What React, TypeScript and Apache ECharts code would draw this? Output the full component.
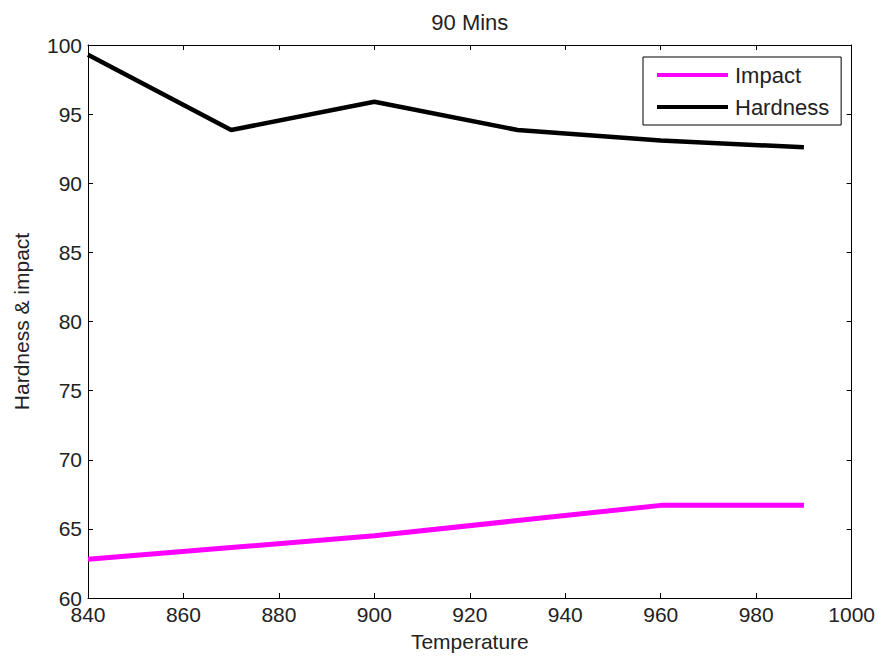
import React, { useEffect, useRef } from "react";
import * as echarts from "echarts";

const temperatures = [840, 870, 900, 930, 960, 990];
const impact = [62.8, 63.65, 64.5, 65.6, 66.7, 66.7];
const hardness = [99.3, 93.85, 95.9, 93.85, 93.1, 92.6];
const seriesNames = ["Impact", "Hardness"];
const titleText = "90 Mins";
const xName = "Temperature";
const yName = "Hardness & impact";

const FONT = "'Liberation Sans', Arial, sans-serif";
const TEXT = "#222";

export default function App() {
  const ref = useRef<HTMLDivElement>(null);
  useEffect(() => {
    document.body.style.margin = "0";
    const chart = echarts.init(ref.current!, undefined, { renderer: "svg" });
    const pair = (xs: number[], ys: number[]) => xs.map((x, i) => [x, ys[i]]);
    const axisCommon = {
      type: "value" as const,
      axisLine: { show: true, lineStyle: { color: "#000", width: 1 } },
      axisTick: { show: true, inside: true, length: 5, lineStyle: { color: "#000" } },
      splitLine: { show: false },
    };
    chart.setOption({
      animation: false,
      backgroundColor: "#fff",
      textStyle: { fontFamily: FONT },
      grid: { left: 88, right: 25, top: 45, bottom: 58, containLabel: false },
      legend: {
        orient: "vertical",
        left: 643,
        top: 57,
        padding: [7, 12, 7, 14],
        itemWidth: 71,
        itemHeight: 4,
        itemGap: 10,
        borderColor: "#000",
        borderWidth: 1,
        backgroundColor: "#fff",
        textStyle: { fontFamily: FONT, fontSize: 22, color: TEXT, padding: [0, 0, 0, 2] },
        data: seriesNames.map((n) => ({ name: n, icon: "rect" })),
      },
      xAxis: [
        {
          ...axisCommon,
          min: 840,
          max: 1000,
          interval: 20,
          position: "bottom",
          name: xName,
          nameLocation: "middle",
          nameGap: 33,
          nameTextStyle: { fontFamily: FONT, fontSize: 21, color: TEXT },
          axisLabel: {
            fontFamily: FONT,
            fontSize: 21,
            color: TEXT,
            margin: 6,
            formatter: (v: number) => String(v),
          },
        },
        {
          ...axisCommon,
          min: 840,
          max: 1000,
          interval: 20,
          position: "top",
          name: titleText,
          nameLocation: "middle",
          nameGap: 12,
          nameTextStyle: { fontFamily: FONT, fontSize: 22, color: TEXT },
          axisLabel: { show: false },
        },
      ],
      yAxis: [
        {
          ...axisCommon,
          min: 60,
          max: 100,
          interval: 5,
          position: "left",
          name: yName,
          nameLocation: "middle",
          nameGap: 56,
          nameTextStyle: { fontFamily: FONT, fontSize: 21, color: TEXT },
          axisLabel: { fontFamily: FONT, fontSize: 21, color: TEXT, margin: 6 },
        },
        {
          ...axisCommon,
          min: 60,
          max: 100,
          interval: 5,
          position: "right",
          axisLabel: { show: false },
        },
      ],
      series: [
        {
          name: seriesNames[0],
          type: "line",
          data: pair(temperatures, impact),
          symbol: "none",
          lineStyle: { color: "#ff00ff", width: 5 },
          itemStyle: { color: "#ff00ff" },
        },
        {
          name: seriesNames[1],
          type: "line",
          data: pair(temperatures, hardness),
          symbol: "none",
          lineStyle: { color: "#000", width: 4.5 },
          itemStyle: { color: "#000" },
        },
      ],
    });
    return () => chart.dispose();
  }, []);
  return <div ref={ref} style={{ width: 878, height: 657 }} />;
}
